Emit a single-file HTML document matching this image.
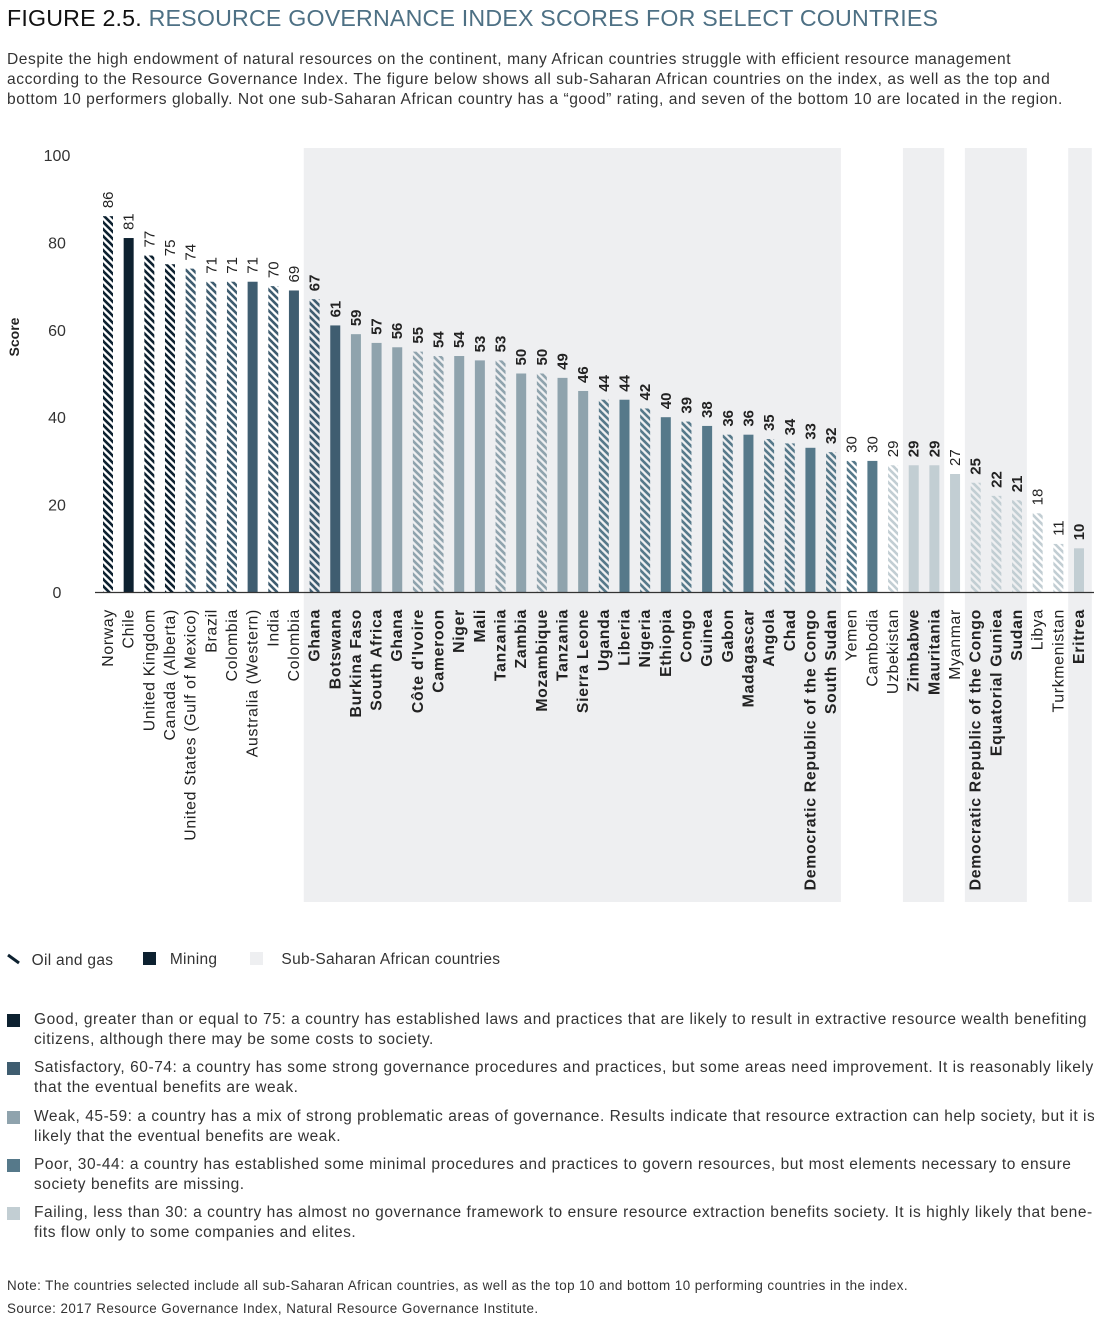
<!DOCTYPE html>
<html><head><meta charset="utf-8">
<style>
body{margin:0;background:#fff;font-family:"Liberation Sans",sans-serif;color:#222;}
#wrap{position:relative;width:1094px;height:1323px;overflow:hidden;}
h1{position:absolute;left:7px;top:5px;margin:0;font-size:23.2px;font-weight:normal;color:#4d7084;letter-spacing:0.2px;}
h1 b{color:#111;font-weight:normal;}
.intro{position:absolute;left:7px;top:50px;width:1090px;font-size:15.6px;line-height:20px;color:#333;letter-spacing:0.55px;white-space:nowrap;}
.leg{position:absolute;font-size:15.5px;color:#333;letter-spacing:0.3px;}
.def{position:absolute;left:7px;width:1090px;font-size:15.5px;line-height:20px;color:#333;letter-spacing:0.55px;white-space:nowrap;}
.def i{position:absolute;left:0;top:4px;width:13px;height:13px;}
.def span{display:block;margin-left:27px;}
.note{position:absolute;left:7px;font-size:13.4px;color:#333;letter-spacing:0.45px;}
</style></head><body>
<div id="wrap">
<h1><b>FIGURE 2.5.</b> RESOURCE GOVERNANCE INDEX SCORES FOR SELECT COUNTRIES</h1>
<div class="intro">Despite the high endowment of natural resources on the continent, many African countries struggle with efficient resource management<br>according to the Resource Governance Index. The figure below shows all sub-Saharan African countries on the index, as well as the top and<br>bottom 10 performers globally. Not one sub-Saharan African country has a “good” rating, and seven of the bottom 10 are located in the region.</div>
<svg id="chart" width="1094" height="940" style="position:absolute;left:0;top:0">
<defs></defs>
</svg>
<div class="leg" style="left:7px;top:951px"><svg width="20" height="16" style="vertical-align:-2px"><line x1="1" y1="4" x2="12" y2="12" stroke="#0d2130" stroke-width="3"/></svg> Oil and gas</div>
<div class="leg" style="left:143px;top:951px"><span style="display:inline-block;width:13px;height:13px;background:#0d2130;vertical-align:-1px"></span>&nbsp;&nbsp; Mining</div>
<div class="leg" style="left:250px;top:951px"><span style="display:inline-block;width:13px;height:13px;background:#eeeff1;vertical-align:-1px"></span>&nbsp;&nbsp;&nbsp; Sub-Saharan African countries</div>
<div class="def" style="top:1010px"><i style="background:#0d2130"></i><span>Good, greater than or equal to 75: a country has established laws and practices that are likely to result in extractive resource wealth benefiting<br>citizens, although there may be some costs to society.</span></div>
<div class="def" style="top:1058px"><i style="background:#3f5d70"></i><span>Satisfactory, 60-74: a country has some strong governance procedures and practices, but some areas need improvement. It is reasonably likely<br>that the eventual benefits are weak.</span></div>
<div class="def" style="top:1107px"><i style="background:#8fa3ad"></i><span>Weak, 45-59: a country has a mix of strong problematic areas of governance. Results indicate that resource extraction can help society, but it is<br>likely that the eventual benefits are weak.</span></div>
<div class="def" style="top:1155px"><i style="background:#56798a"></i><span>Poor, 30-44: a country has established some minimal procedures and practices to govern resources, but most elements necessary to ensure<br>society benefits are missing.</span></div>
<div class="def" style="top:1203px"><i style="background:#c2ced3"></i><span>Failing, less than 30: a country has almost no governance framework to ensure resource extraction benefits society. It is highly likely that bene-<br>fits flow only to some companies and elites.</span></div>
<div class="note" style="top:1278px">Note: The countries selected include all sub-Saharan African countries, as well as the top 10 and bottom 10 performing countries in the index.</div>
<div class="note" style="top:1301px">Source: 2017 Resource Governance Index, Natural Resource Governance Institute.</div>
</div>
<script>
const countries=["Norway","Chile","United Kingdom","Canada (Alberta)","United States (Gulf of Mexico)","Brazil","Colombia","Australia (Western)","India","Colombia","Ghana","Botswana","Burkina Faso","South Africa","Ghana","Côte d'Ivoire","Cameroon","Niger","Mali","Tanzania","Zambia","Mozambique","Tanzania","Sierra Leone","Uganda","Liberia","Nigeria","Ethiopia","Congo","Guinea","Gabon","Madagascar","Angola","Chad","Democratic Republic of the Congo","South Sudan","Yemen","Cambodia","Uzbekistan","Zimbabwe","Mauritania","Myanmar","Democratic Republic of the Congo","Equatorial Guniea","Sudan","Libya","Turkmenistan","Eritrea"];
const scores=[86,81,77,75,74,71,71,71,70,69,67,61,59,57,56,55,54,54,53,53,50,50,49,46,44,44,42,40,39,38,36,36,35,34,33,32,30,30,29,29,29,27,25,22,21,18,11,10];
// sector: 1 = oil & gas (hatched), 0 = mining (solid)
const oilGas=[1,0,1,1,1,1,1,0,1,0,1,0,0,0,0,1,1,0,0,1,0,1,0,0,1,0,1,0,1,0,1,0,1,1,0,1,1,0,1,0,0,0,1,1,1,1,1,0];
const ssa=[0,0,0,0,0,0,0,0,0,0,1,1,1,1,1,1,1,1,1,1,1,1,1,1,1,1,1,1,1,1,1,1,1,1,1,1,0,0,0,1,1,0,1,1,1,0,0,1];
const yTicks=[0,20,40,60,80,100];

const svg=document.getElementById('chart');
const NS='http://www.w3.org/2000/svg';
const y0=592, yTop=155, x0=108, step=(1079-108)/47, bw=10;
const y=v=>y0-(v/100)*(y0-yTop);
const x=i=>x0+i*step;
function rating(v){return v>=75?'#0d2130':v>=60?'#3f5d70':v>=45?'#8fa3ad':v>=30?'#56798a':'#c2ced3';}
function mk(t,a){const e=document.createElementNS(NS,t);for(const k in a)e.setAttribute(k,a[k]);svg.appendChild(e);return e;}
const defs=svg.querySelector('defs');
['#0d2130','#3f5d70','#8fa3ad','#56798a','#c2ced3'].forEach((c,k)=>{
  const p=document.createElementNS(NS,'pattern');
  p.setAttribute('id','h'+k);p.setAttribute('patternUnits','userSpaceOnUse');p.setAttribute('width','7');p.setAttribute('height','7');
  [[-1,-1,8,8],[-8,-1,1,8],[6,-1,15,8]].forEach(q=>{
    const l=document.createElementNS(NS,'line');
    l.setAttribute('x1',q[0]);l.setAttribute('y1',q[1]);l.setAttribute('x2',q[2]);l.setAttribute('y2',q[3]);
    l.setAttribute('stroke',c);l.setAttribute('stroke-width','2.6');
    p.appendChild(l);
  });
  defs.appendChild(p);
});
const colIdx={'#0d2130':0,'#3f5d70':1,'#8fa3ad':2,'#56798a':3,'#c2ced3':4};
let i=0;
while(i<ssa.length){
  if(ssa[i]){let j=i;while(j+1<ssa.length&&ssa[j+1])j++;
    const r=mk('rect',{x:x(i)-step/2-0.5,y:148,width:(j-i+1)*step+(j==ssa.length-1?3:0),height:754,fill:'#eeeff1'});
    
    
    i=j+1;}else i++;
}
yTicks.forEach(t=>{
  const tx=mk('text',{x:57,y:y(t)+6,'text-anchor':'middle','font-size':16,fill:'#333'});tx.textContent=t;
  
  
});
const yt=mk('text',{transform:'translate(19,337) rotate(-90)','text-anchor':'middle','font-size':14,'font-weight':'bold',fill:'#222'});yt.textContent='Score';


scores.forEach((v,k)=>{
  const c=rating(v);
  const b=mk('rect',{x:x(k)-bw/2,y:y(v),width:bw,height:y0-y(v),fill:oilGas[k]?'url(#h'+colIdx[c]+')':c});
  
  
  const vl=mk('text',{transform:`translate(${x(k)+5},${y(v)-8}) rotate(-90)`,'font-size':15,fill:'#222','font-weight':ssa[k]?'bold':'normal'});vl.textContent=v;
  
  
  const cl=mk('text',{transform:`translate(${x(k)+5},609) rotate(-90)`,'text-anchor':'end','font-size':15.8,fill:'#222','font-weight':ssa[k]?'bold':'normal','letter-spacing':'0.7'});cl.textContent=countries[k];
  
  
});
const ax=mk('line',{x1:95,x2:1094,y1:y0+0.5,y2:y0+0.5,stroke:'#333','stroke-width':1.2});


</script>
</body></html>
